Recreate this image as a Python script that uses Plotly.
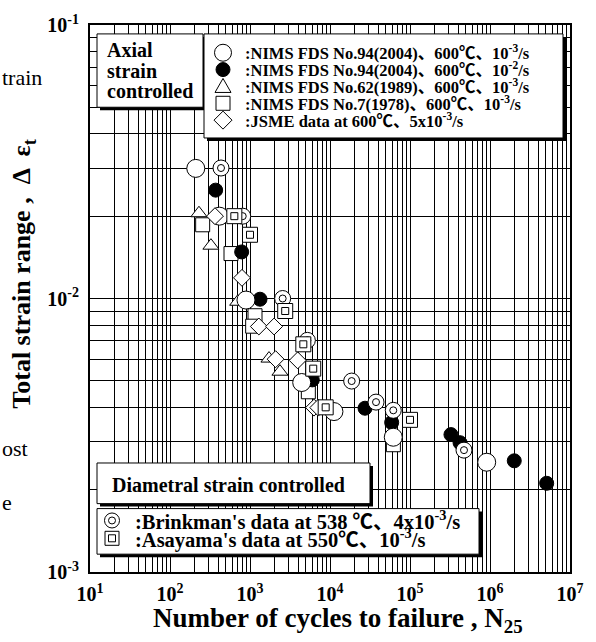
import plotly.graph_objects as go

# ---------------- data ----------------
nims94_slow_N = [210, 415, 891, 4430, 11200, 61800, 909000]
nims94_slow_e = [0.0299, 0.0200, 0.00987, 0.00493, 0.00386, 0.00311, 0.00252]

nims94_fast_N = [372, 787, 1334, 6010, 27400, 59000, 325000, 422000, 2010000, 5110000]
nims94_fast_e = [0.0249, 0.0148, 0.00994, 0.00504, 0.00397, 0.00352, 0.00318, 0.00297, 0.00255, 0.00211]

nims62_N = [230, 325, 702, 1728, 2370]
nims62_e = [0.0205, 0.0156, 0.00973, 0.00603, 0.0054]

nims7_N = [256, 579, 1155, 1080, 5360, 62000]
nims7_e = [0.0186, 0.0146, 0.00865, 0.00792, 0.00456, 0.00292]

jsme_N = [365, 794, 1290, 2000, 2090, 3945, 6310, 7140]
jsme_e = [0.0200, 0.0119, 0.0079, 0.0079, 0.0060, 0.00594, 0.00399, 0.00399]

brinkman_N = [434, 811, 2560, 5210, 18660, 37600, 61800, 473000]
brinkman_e = [0.0300, 0.0200, 0.0100, 0.00703, 0.00499, 0.00418, 0.00390, 0.00279]

asayama_N = [637, 1000, 2755, 4640, 6170, 8830, 100000]
asayama_e = [0.0200, 0.0171, 0.0090, 0.0068, 0.00554, 0.0040, 0.0036]

x_decades = [1, 2, 3, 4, 5, 6, 7]
y_decades = [-3, -2, -1]

legend_axial = [
    ":NIMS FDS No.94(2004)、600℃、10<sup>-3</sup>/s",
    ":NIMS FDS No.94(2004)、600℃、10<sup>-2</sup>/s",
    ":NIMS FDS No.62(1989)、600℃、10<sup>-3</sup>/s",
    ":NIMS FDS No.7(1978)、600℃、10<sup>-3</sup>/s",
    ":JSME data at 600℃、5x10<sup>-3</sup>/s",
]
legend_diam = [
    ":Brinkman's data at 538 ℃、4x10<sup>-3</sup>/s",
    ":Asayama's data at 550℃、10<sup>-3</sup>/s",
]

# ---------------- geometry helpers ----------------
W, H = 596, 642
PL, PR, PT, PB = 90, 570, 20, 572
FONT = "Liberation Serif, Times New Roman, Noto Sans CJK JP, serif"


def px2x(px):
    return (px - PL) / (PR - PL)


def px2y(py):
    return (PB - py) / (PB - PT)


fig = go.Figure()

BLK = dict(color="black", width=1)


def add_series(N, e, symbol, size, fill, inner=None):
    fig.add_trace(go.Scatter(x=N, y=e, mode="markers",
                             marker=dict(symbol=symbol, size=size, color=fill, line=BLK),
                             hoverinfo="skip"))
    if inner:
        fig.add_trace(go.Scatter(x=N, y=e, mode="markers",
                                 marker=dict(symbol=inner, size=7, color="black",
                                             line=dict(color="black", width=1)),
                                 hoverinfo="skip"))


add_series(nims7_N, nims7_e, "square", 14, "white")
add_series(nims62_N, nims62_e, "triangle-up", 14, "white")
add_series(nims94_fast_N, nims94_fast_e, "circle", 14, "black")
add_series(nims94_slow_N, nims94_slow_e, "circle", 18, "white")
add_series(jsme_N, jsme_e, "diamond", 13, "white")
add_series(brinkman_N, brinkman_e, "circle", 16, "white", inner="circle-open")
add_series(asayama_N, asayama_e, "square", 15, "white", inner="square-open")

# ticks / grid
xt_vals = [10 ** d for d in x_decades]
xt_text = [f"10<sup>{d}</sup>" for d in x_decades]
xm_vals = [m * 10 ** d for d in x_decades[:-1] for m in range(2, 10)]
yt_vals = [10.0 ** d for d in y_decades]
yt_text = [f"10<sup>{d}</sup>" for d in y_decades]
ym_vals = [m * 10.0 ** d for d in y_decades[:-1] for m in range(2, 10)]

tickfont = dict(family=FONT, size=20, color="black", weight="bold")
axcommon = dict(type="log", showgrid=True, gridcolor="black", gridwidth=1,
                showline=True, linecolor="black", linewidth=2, mirror=True,
                ticks="", tickfont=tickfont, zeroline=False, tickmode="array")
fig.update_xaxes(range=[x_decades[0], x_decades[-1]], tickvals=xt_vals, ticktext=xt_text,
                 ticklabelstandoff=3,
                 minor=dict(tickmode="array", tickvals=xm_vals, showgrid=True,
                            gridcolor="black", gridwidth=1, ticks=""),
                 **axcommon)
fig.update_yaxes(range=[y_decades[0], y_decades[-1]], tickvals=yt_vals, ticktext=yt_text,
                 ticklabelstandoff=5,
                 minor=dict(tickmode="array", tickvals=ym_vals, showgrid=True,
                            gridcolor="black", gridwidth=1, ticks=""),
                 **axcommon)

shapes = []


def box(x0, y0, x1, y1, sh=3):
    shapes.append(dict(type="rect", xref="paper", yref="paper",
                       x0=px2x(x0 + sh), x1=px2x(x1 + sh), y0=px2y(y1 + sh), y1=px2y(y0 + sh),
                       fillcolor="black", line=dict(width=0), layer="above"))
    shapes.append(dict(type="rect", xref="paper", yref="paper",
                       x0=px2x(x0), x1=px2x(x1), y0=px2y(y1), y1=px2y(y0),
                       fillcolor="white", line=BLK, layer="above"))


def circ(cx, cy, r, fill="white"):
    shapes.append(dict(type="circle", xref="paper", yref="paper",
                       xsizemode="pixel", ysizemode="pixel",
                       xanchor=px2x(cx), yanchor=px2y(cy),
                       x0=-r, x1=r, y0=-r, y1=r, fillcolor=fill, line=BLK, layer="above"))


def sq(cx, cy, r, fill="white"):
    shapes.append(dict(type="rect", xref="paper", yref="paper",
                       xsizemode="pixel", ysizemode="pixel",
                       xanchor=px2x(cx), yanchor=px2y(cy),
                       x0=-r, x1=r, y0=-r, y1=r, fillcolor=fill, line=BLK, layer="above"))


def pth(cx, cy, path):
    shapes.append(dict(type="path", xref="paper", yref="paper",
                       xsizemode="pixel", ysizemode="pixel",
                       xanchor=px2x(cx), yanchor=px2y(cy),
                       path=path, fillcolor="white", line=BLK, layer="above"))


# boxes
box(97, 29, 203, 103)
box(204, 29, 563, 134)
box(97, 462, 370, 503)
box(97, 508, 479, 554)

annots = []


def txt(x, y, s, size, anchor="left", weight="bold", angle=0, fam=FONT):
    annots.append(dict(x=px2x(x), y=px2y(y), xref="paper", yref="paper", text=s,
                       showarrow=False, xanchor=anchor, yanchor="middle", textangle=angle,
                       font=dict(family=fam, size=size, color="black", weight=weight)))


# axial legend markers
rows = [48, 65, 82, 99, 116]
mx = 223
circ(mx, rows[0], 8.5)
circ(mx, rows[1], 7, "black")
pth(mx, rows[2], "M -8,-6 L 8,-6 L 0,8 Z")
sq(mx, rows[3], 7)
pth(mx, rows[4], "M -9,0 L 0,9 L 9,0 L 0,-9 Z")
for r, s in zip(rows, legend_axial):
    txt(243, r, s, 16.5)

txt(105, 45, "Axial", 20)
txt(105, 66, "strain", 20)
txt(105, 87, "controlled", 20)

txt(110, 484, "Diametral strain controlled", 20)

drows = [520, 538]
circ(112, drows[0], 7.5)
circ(112, drows[0], 3.5)
sq(112, drows[1], 7)
sq(112, drows[1], 3.5)
for r, s in zip(drows, legend_diam):
    txt(133, r, s, 20.5)

# axis titles
txt(338, 620, "Number of cycles to failure , N<sub>25</sub>", 27, anchor="center")
txt(23, 272, "Total strain range ,  Δ  ε<sub>t</sub>", 26, anchor="center", angle=-90)

# stray page text at the left edge
txt(0, 73, "train", 22, weight="normal")
txt(0, 447, "ost", 22, weight="normal")
txt(0, 502, "e", 22, weight="normal")

fig.update_layout(width=W, height=H, margin=dict(l=PL, r=W - PR, t=PT, b=H - PB),
                  plot_bgcolor="white", paper_bgcolor="white", showlegend=False,
                  shapes=shapes, annotations=annots)

fig.write_html("out.html")
